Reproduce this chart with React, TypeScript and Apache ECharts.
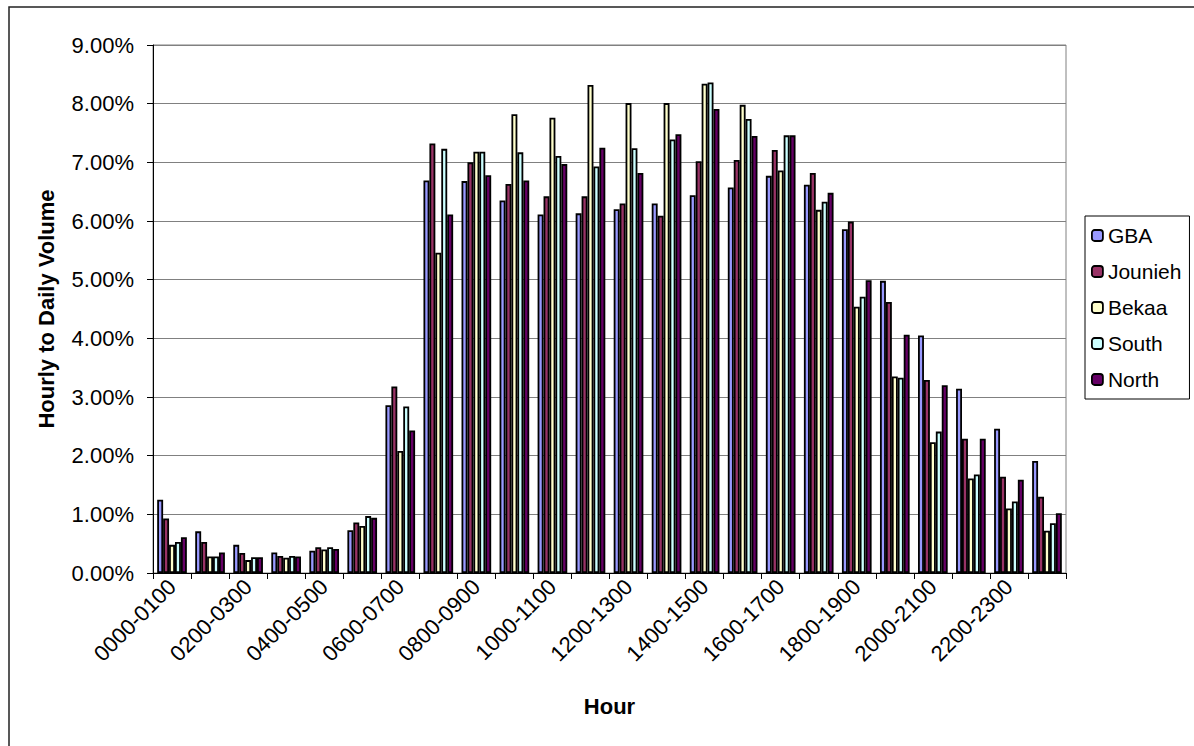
import React, { useEffect, useRef } from "react";
import * as echarts from "echarts";

const categories = [
  "0000-0100", "0100-0200", "0200-0300", "0300-0400", "0400-0500", "0500-0600",
  "0600-0700", "0700-0800", "0800-0900", "0900-1000", "1000-1100", "1100-1200",
  "1200-1300", "1300-1400", "1400-1500", "1500-1600", "1600-1700", "1700-1800",
  "1800-1900", "1900-2000", "2000-2100", "2100-2200", "2200-2300", "2300-2400",
];

const seriesNames = ["GBA", "Jounieh", "Bekaa", "South", "North"];

const gba = [1.25, 0.71, 0.48, 0.35, 0.38, 0.73, 2.86, 6.69, 6.68, 6.35, 6.11, 6.13, 6.2, 6.3, 6.44, 6.57, 6.77, 6.62, 5.86, 4.98, 4.05, 3.14, 2.46, 1.91];
const jounieh = [0.93, 0.53, 0.34, 0.29, 0.44, 0.86, 3.18, 7.32, 7.0, 6.63, 6.42, 6.42, 6.3, 6.09, 7.02, 7.04, 7.21, 6.82, 5.99, 4.62, 3.29, 2.29, 1.64, 1.3];
const bekaa = [0.48, 0.28, 0.22, 0.26, 0.4, 0.8, 2.08, 5.46, 7.18, 7.82, 7.76, 8.32, 8.01, 8.01, 8.34, 7.98, 6.86, 6.19, 4.54, 3.35, 2.23, 1.61, 1.1, 0.72];
const south = [0.53, 0.28, 0.27, 0.29, 0.44, 0.97, 2.84, 7.23, 7.18, 7.17, 7.11, 6.93, 7.24, 7.39, 8.36, 7.74, 7.46, 6.33, 4.71, 3.33, 2.41, 1.68, 1.22, 0.85];
const north = [0.61, 0.35, 0.27, 0.28, 0.41, 0.94, 2.43, 6.11, 6.78, 6.69, 6.97, 7.25, 6.82, 7.48, 7.91, 7.45, 7.46, 6.48, 4.99, 4.06, 3.2, 2.29, 1.59, 1.02];

const seriesValues = [gba, jounieh, bekaa, south, north];
const colors = ["#9999FF", "#993366", "#FFFFCC", "#CCFFFF", "#660066"];

const FONT = "'Liberation Sans', Arial, sans-serif";

export default function App() {
  const ref = useRef<HTMLDivElement>(null);

  useEffect(() => {
    if (!ref.current) return;
    const chart = echarts.init(ref.current, undefined, { renderer: "svg" });
    chart.setOption({
      animation: false,
      backgroundColor: "#ffffff",
      textStyle: { fontFamily: FONT, color: "#000" },
      graphic: [
        {
          type: "rect",
          shape: { x: 9, y: 7, width: 1400, height: 1000 },
          style: { fill: "none", stroke: "#222", lineWidth: 1.5 },
          silent: true,
        },
      ],
      grid: {
        left: 153,
        top: 45,
        right: 128,
        bottom: 173,
        show: true,
        borderColor: "#808080",
        borderWidth: 1,
        containLabel: false,
      },
      legend: {
        orient: "vertical",
        left: 1085,
        top: 216,
        padding: [9, 8, 9, 6],
        itemGap: 15,
        itemWidth: 11,
        itemHeight: 11,
        itemStyle: { borderColor: "#000", borderWidth: 1.8 },
        borderColor: "#000",
        borderWidth: 1,
        backgroundColor: "#fff",
        textStyle: { fontFamily: FONT, fontSize: 21, color: "#000" },
        data: seriesNames,
      },
      xAxis: {
        type: "category",
        data: categories,
        name: "Hour",
        nameLocation: "middle",
        nameGap: 122,
        nameTextStyle: { fontFamily: FONT, fontSize: 22, fontWeight: "bold", color: "#000" },
        axisLine: { lineStyle: { color: "#000", width: 1 } },
        axisTick: { show: true, interval: 0, length: 6, lineStyle: { color: "#000" } },
        axisLabel: {
          interval: 1,
          rotate: 45,
          fontFamily: FONT,
          fontSize: 22,
          color: "#000",
          margin: 10,
        },
      },
      yAxis: {
        type: "value",
        min: 0,
        max: 9,
        interval: 1,
        name: "Hourly to Daily Volume",
        nameLocation: "middle",
        nameGap: 96,
        nameRotate: 90,
        nameTextStyle: { fontFamily: FONT, fontSize: 22, fontWeight: "bold", color: "#000" },
        axisLine: { show: true, lineStyle: { color: "#000", width: 1 } },
        axisTick: { show: true, length: 6, lineStyle: { color: "#000" } },
        splitLine: { show: true, lineStyle: { color: "#808080", width: 1 } },
        axisLabel: {
          formatter: (v: number) => v.toFixed(2) + "%",
          fontFamily: FONT,
          fontSize: 22,
          color: "#000",
          margin: 19,
        },
      },
      series: seriesNames.map((name, i) => ({
        name,
        type: "bar",
        data: seriesValues[i],
        barGap: "0%",
        barCategoryGap: "22%",
        itemStyle: { color: colors[i], borderColor: "#000", borderWidth: 1.8 },
      })),
    });
    return () => chart.dispose();
  }, []);

  return (
    <div
      ref={ref}
      style={{ position: "fixed", left: 0, top: 0, width: 1194, height: 746 }}
    />
  );
}
